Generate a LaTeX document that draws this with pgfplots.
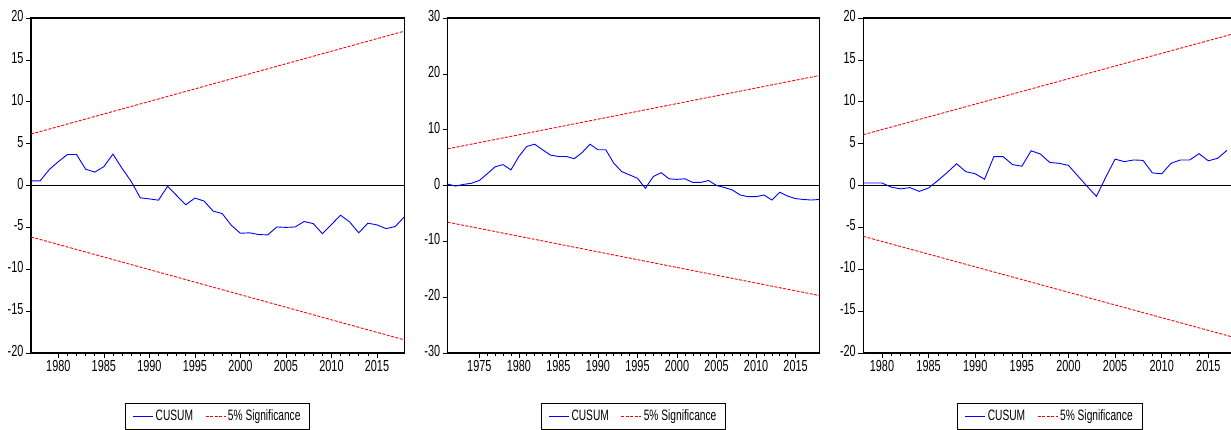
\documentclass[border=0pt]{standalone}
\usepackage{pgfplots}
\pgfplotsset{compat=1.18}
\usepackage{fontspec}
\setmainfont{Liberation Sans}[FakeStretch=0.68]

\definecolor{cblue}{RGB}{0,0,255}
\definecolor{cred}{RGB}{255,0,0}

\tikzset{legframe/.style={draw=black, line width=0.6pt}}
\pgfplotsset{
  cusum/.style={
    scale only axis,
    height=335pt,
    axis line style={line width=1.2pt},
    tick align=outside,
    xtick pos=bottom, ytick pos=left,
    tick style={black, line width=0.6pt},
    major tick length=5pt, minor tick length=3pt,
    minor x tick num=4,
    /pgf/number format/assume math mode=true,
    /pgf/number format/1000 sep={},
    ticklabel style={font=\fontsize{16}{16}\selectfont},
    yticklabel style={yshift=2pt, xshift=1pt},
    xticklabel style={yshift=1pt},
    legend columns=2,
    legend style={at={(0.5,-0.16)}, anchor=north, draw=none,
      font=\fontsize{15}{15}\selectfont, inner ysep=1pt, inner xsep=3pt,
      /tikz/every even column/.append style={column sep=10pt}},
    legend image code/.code={\draw[#1] (0pt,0pt) -- (20pt,0pt);},
    clip=true,
  },
  cus/.style={cblue, line width=0.9pt},
  sig/.style={cred, line width=0.9pt, dash pattern=on 3pt off 1.5pt},
}

\begin{document}
\begin{tikzpicture}
\useasboundingbox (0pt,0pt) rectangle (1231pt,-429pt);

% Panel 1
\begin{axis}[cusum, width=373.3pt, at={(31pt,-353pt)}, anchor=south west,
  xmin=1977, xmax=2018, ymin=-20, ymax=20,
  xtick={1980,1985,...,2015}, ytick={-20,-15,...,20},
  legend style={name=legA}]
\addplot[black, line width=0.7pt, forget plot] coordinates {(1977,0) (2018,0)};
\addplot[cus] coordinates {
(1977,0.55)(1978,0.55)(1979,1.9)(1980,2.85)(1981,3.7)(1982,3.7)(1983,1.95)(1984,1.6)
(1985,2.25)(1986,3.75)(1987,2.05)(1988,0.5)(1989,-1.47)(1990,-1.6)(1991,-1.75)(1992,-0.1)
(1993,-1.2)(1994,-2.3)(1995,-1.5)(1996,-1.85)(1997,-3.05)(1998,-3.35)(1999,-4.75)(2000,-5.7)
(2001,-5.65)(2002,-5.85)(2003,-5.9)(2004,-4.95)(2005,-5.0)(2006,-4.95)(2007,-4.3)(2008,-4.55)
(2009,-5.75)(2010,-4.65)(2011,-3.55)(2012,-4.35)(2013,-5.65)(2014,-4.5)(2015,-4.7)(2016,-5.15)
(2017,-4.9)(2018,-3.75)};
\addlegendentry{CUSUM}
\addplot[sig] coordinates {(1977,6.14)(2018,18.43)};
\addlegendentry{5\% Significance}
\addplot[sig, forget plot] coordinates {(1977,-6.14)(2018,-18.43)};
\end{axis}
\draw[legframe] ([xshift=-4pt,yshift=-3.5pt]legA.south west) rectangle ([xshift=4pt,yshift=3.5pt]legA.north east);

% Panel 2
\begin{axis}[cusum, width=371.6pt, at={(447.7pt,-353pt)}, anchor=south west,
  xmin=1971, xmax=2018, ymin=-30, ymax=30,
  xtick={1975,1980,...,2015}, ytick={-30,-20,...,30},
  legend style={name=legB}]
\addplot[black, line width=0.7pt, forget plot] coordinates {(1971,0) (2018,0)};
\addplot[cus] coordinates {
(1971,0.25)(1972,-0.1)(1973,0.2)(1974,0.4)(1975,0.9)(1976,2.1)(1977,3.35)(1978,3.75)
(1979,2.8)(1980,5.2)(1981,7.0)(1982,7.4)(1983,6.4)(1984,5.45)(1985,5.2)(1986,5.2)
(1987,4.8)(1988,5.9)(1989,7.4)(1990,6.4)(1991,6.4)(1992,4.0)(1993,2.5)(1994,1.9)
(1995,1.3)(1996,-0.5)(1997,1.6)(1998,2.3)(1999,1.2)(2000,1.1)(2001,1.2)(2002,0.55)
(2003,0.55)(2004,0.9)(2005,0.0)(2006,-0.35)(2007,-0.8)(2008,-1.7)(2009,-2.0)(2010,-2.0)
(2011,-1.7)(2012,-2.6)(2013,-1.2)(2014,-1.9)(2015,-2.35)(2016,-2.5)(2017,-2.6)(2018,-2.5)};
\addlegendentry{CUSUM}
\addplot[sig] coordinates {(1971,6.57)(2018,19.70)};
\addlegendentry{5\% Significance}
\addplot[sig, forget plot] coordinates {(1971,-6.57)(2018,-19.70)};
\end{axis}
\draw[legframe] ([xshift=-4pt,yshift=-3.5pt]legB.south west) rectangle ([xshift=4pt,yshift=3.5pt]legB.north east);

% Panel 3
\begin{axis}[cusum, width=373pt, at={(863.3pt,-353pt)}, anchor=south west,
  xmin=1978, xmax=2018, ymin=-20, ymax=20,
  xtick={1980,1985,...,2015}, ytick={-20,-15,...,20},
  legend style={name=legC}]
\addplot[black, line width=0.7pt, forget plot] coordinates {(1978,0) (2018,0)};
\addplot[cus] coordinates {
(1978,0.3)(1979,0.3)(1980,0.3)(1981,-0.2)(1982,-0.4)(1983,-0.25)(1984,-0.7)(1985,-0.3)
(1986,0.6)(1987,1.55)(1988,2.6)(1989,1.65)(1990,1.4)(1991,0.75)(1992,3.45)(1993,3.45)
(1994,2.5)(1995,2.3)(1996,4.15)(1997,3.75)(1998,2.75)(1999,2.65)(2000,2.4)(2001,1.15)
(2002,-0.1)(2003,-1.3)(2004,1.0)(2005,3.15)(2006,2.85)(2007,3.05)(2008,3.0)(2009,1.5)
(2010,1.4)(2011,2.65)(2012,3.05)(2013,3.05)(2014,3.8)(2015,2.95)(2016,3.25)(2017,4.2)};
\addlegendentry{CUSUM}
\addplot[sig] coordinates {(1978,6.07)(2018,18.21)};
\addlegendentry{5\% Significance}
\addplot[sig, forget plot] coordinates {(1978,-6.07)(2018,-18.21)};
\end{axis}
\draw[legframe] ([xshift=-4pt,yshift=-3.5pt]legC.south west) rectangle ([xshift=4pt,yshift=3.5pt]legC.north east);
\end{tikzpicture}
\end{document}
